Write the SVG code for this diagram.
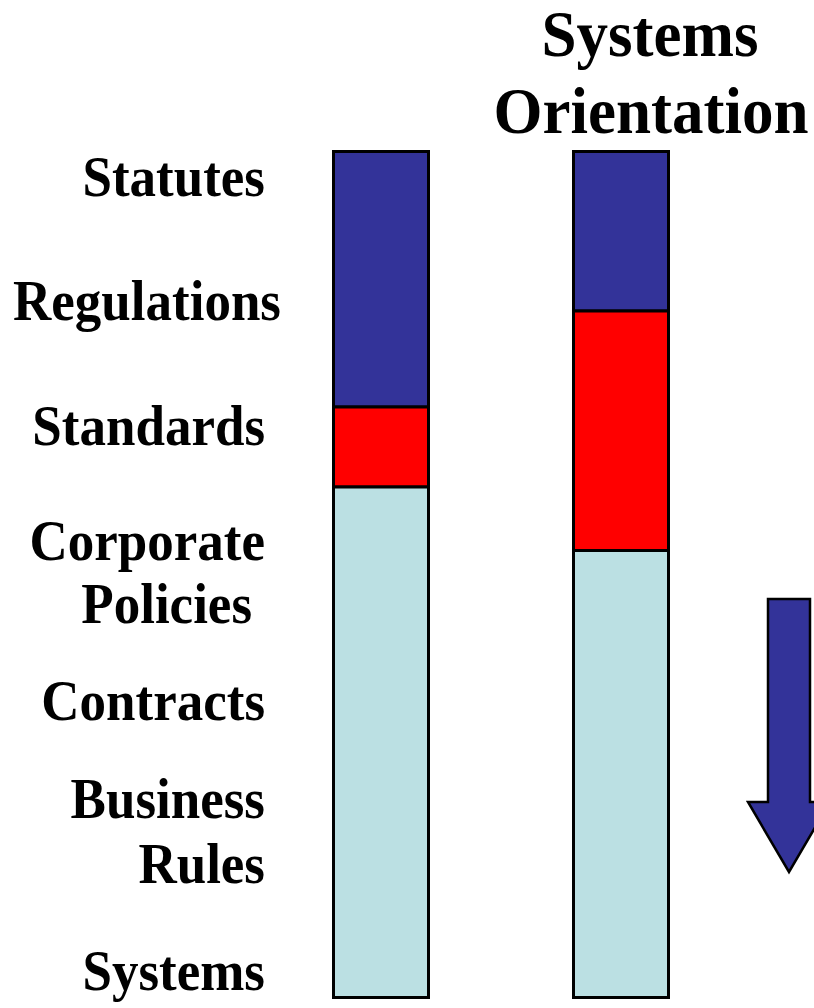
<svg xmlns="http://www.w3.org/2000/svg" width="814" height="1008" viewBox="0 0 814 1008">
<style>
.lbl{font-family:"Liberation Serif","Times New Roman",serif;font-weight:bold;font-size:53px;fill:#000;text-anchor:end}
.ttl{font-family:"Liberation Serif","Times New Roman",serif;font-weight:bold;font-size:63px;fill:#000;text-anchor:middle}
.seg{stroke:#000;stroke-width:3}
.blue{fill:#333399}
.red{fill:#FF0000}
.cyan{fill:#BBE0E3}
</style>
<rect width="814" height="1008" fill="#fff"/>
<g id="title">
<text class="ttl" transform="translate(650,56) scale(1,1.04)">Systems</text>
<text class="ttl" transform="translate(651,133) scale(1,1.04)">Orientation</text>
</g>
<g id="labels">
<text class="lbl" transform="translate(265,196) scale(1,1.07)">Statutes</text>
<text class="lbl" transform="translate(281,320) scale(1,1.07)">Regulations</text>
<text class="lbl" transform="translate(265,445) scale(1,1.07)">Standards</text>
<text class="lbl" transform="translate(265,560) scale(1,1.07)">Corporate</text>
<text class="lbl" transform="translate(252,623) scale(1,1.07)">Policies</text>
<text class="lbl" transform="translate(265,720) scale(1,1.07)">Contracts</text>
<text class="lbl" transform="translate(265,818) scale(1,1.07)">Business</text>
<text class="lbl" transform="translate(265,883) scale(1,1.07)">Rules</text>
<text class="lbl" transform="translate(265,990) scale(1,1.07)">Systems</text>
</g>
<g id="bar-left">
<rect class="seg blue" x="333.5" y="151.5" width="95" height="255.5"/>
<rect class="seg red" x="333.5" y="407" width="95" height="80"/>
<rect class="seg cyan" x="333.5" y="487" width="95" height="510.5"/>
</g>
<g id="bar-right">
<rect class="seg blue" x="573.5" y="151.5" width="95" height="159.5"/>
<rect class="seg red" x="573.5" y="311" width="95" height="239.5"/>
<rect class="seg cyan" x="573.5" y="550.5" width="95" height="447"/>
</g>
<g id="connectors">
<polygon id="arrow" points="768,599 810,599 810,802 830,802 789,872 748,802 768,802" fill="#333399" stroke="#000" stroke-width="2.5" stroke-linejoin="miter"/>
</g>
</svg>
